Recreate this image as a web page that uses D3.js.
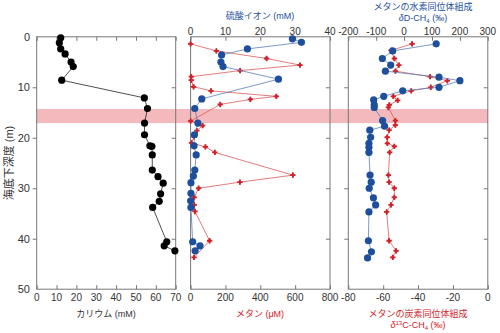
<!DOCTYPE html>
<html>
<head>
<meta charset="utf-8">
<script src="https://cdn.jsdelivr.net/npm/d3@7"></script>
<style>
  body { margin: 0; background: #fff; }
  svg text { font-family: "Liberation Sans", Arial, "Noto Sans CJK JP", sans-serif; }
</style>
</head>
<body>
<div id="chart"></div>
<script>
// ---- data (depth in m below seafloor) ----
var kDepth = [0.2, 1.2, 2.4, 3.4, 5.0, 5.9, 8.6, 12.1, 14.2, 17.1, 19.4, 21.6, 21.7, 23.4, 26.4, 27.7, 29.0, 31.1, 32.6, 33.8, 40.6, 41.4, 42.4];
var kValue = [12.1, 11.4, 12.1, 14.3, 17.3, 18.4, 12.6, 54.2, 55.8, 54.3, 54.3, 57.0, 58.0, 58.2, 58.2, 61.1, 63.7, 62.4, 61.7, 58.4, 65.5, 64.2, 69.6];

var so4Depth = [0.4, 1.1, 2.4, 3.6, 5.0, 5.9, 8.4, 12.3, 14.2, 17.1, 19.4, 21.6, 23.4, 26.4, 27.6, 28.9, 31.0, 32.5, 33.8, 40.6, 41.4, 42.4];
var so4Value = [29.2, 31.8, 16.3, 8.9, 8.7, 9.3, 25.2, 3.2, 1.2, 2.1, 1.1, 1.0, 1.6, 1.2, 0.8, 0.1, 0.1, 0.0, 0.1, 0.6, 2.7, 1.3];

var ch4Depth = [1.4, 2.8, 4.3, 5.6, 6.7, 7.9, 8.6, 9.9, 10.7, 11.8, 12.4, 13.4, 16.7, 17.6, 18.6, 19.8, 21.0, 21.8, 22.9, 27.4, 28.8, 30.0, 31.8, 33.3, 34.6, 40.4, 43.7];
var ch4Value = [0, 148, 436, 628, 284, 4, 4, 17, 117, 492, 343, 170, 0, 69, 36, 20, 5, 85, 139, 587, 283, 46, 21, 21, 25, 109, 20];

var dDDepth = [1.4, 2.8, 4.3, 5.6, 6.8, 8.0, 8.7, 10.0, 10.7, 11.8, 12.5, 13.5, 14.0, 16.6, 17.7, 18.5, 19.9, 21.1, 21.9, 22.9, 27.4, 28.8, 30.0, 31.9, 33.3, 34.7, 40.4, 42.6, 43.8];
var dDValue = [115, -41, -78, -48, -67, 125, 200, 125, -5, -73, -109, -107, -107, -77, -70, -123, -120, -126, -126, -126, -122, -118, -125, -110, -102, -126, -128, -117, -131];

var d13Depth = [1.4, 2.7, 4.3, 5.6, 6.8, 7.9, 8.7, 10.0, 10.7, 11.8, 12.6, 13.5, 14.0, 16.6, 17.5, 18.5, 19.9, 21.1, 21.7, 22.9, 27.4, 28.8, 30.0, 31.8, 33.3, 34.7, 40.4, 42.4, 43.7];
var d13Value = [-43.4, -55.5, -53.6, -51.0, -53.0, -33.1, -23.2, -32.7, -43.9, -54.2, -51.7, -56.5, -57.0, -53.0, -53.0, -56.6, -57.7, -57.6, -53.6, -56.3, -57.0, -56.6, -53.6, -53.6, -55.5, -58.0, -56.6, -52.6, -54.5];

var depthTicks = [0, 10, 20, 30, 40, 50];
var bandDepth = [14.3, 17.1];

var width = 500, height = 333;
var blue = "#1d4f9c", blueLine = "#5b80bd";
var red = "#d0222a", redLine = "#dd5a5a";
var axisColor = "#777";

var svg = d3.select("#chart").append("svg")
    .attr("width", width)
    .attr("height", height);

var y = d3.scaleLinear().domain([0, 50]).range([36.8, 289.2]);

// panels
var p1 = {left: 36.7, right: 175.7};
var p2 = {left: 190.6, right: 330};
var p3 = {left: 348.3, right: 487.8};

var xK = d3.scaleLinear().domain([0, 70]).range([p1.left, p1.right]);
var xSO4 = d3.scaleLinear().domain([0, 40]).range([p2.left, p2.right]);
var xCH4 = d3.scaleLinear().domain([0, 800]).range([p2.left, p2.right]);
var xdD = d3.scaleLinear().domain([-200, 300]).range([p3.left, p3.right]);
var xd13 = d3.scaleLinear().domain([-80, 0]).range([p3.left, p3.right]);

// pink band behind everything
svg.append("rect")
    .attr("x", p1.left)
    .attr("y", y(bandDepth[0]))
    .attr("width", p3.right - p1.left)
    .attr("height", y(bandDepth[1]) - y(bandDepth[0]))
    .attr("fill", "#f3b9bd");

function drawFrame(p, leftOut) {
    var g = svg.append("g");
    g.append("rect")
        .attr("x", p.left).attr("y", y(0))
        .attr("width", p.right - p.left).attr("height", y(50) - y(0))
        .attr("fill", "none").attr("stroke", axisColor).attr("stroke-width", 1);
    // right side inward ticks
    g.append("g").attr("transform", "translate(" + p.right + ",0)")
        .call(d3.axisLeft(y).tickValues([10, 20, 30, 40]).tickSize(4).tickFormat(""))
        .call(function(s) { s.select(".domain").remove(); s.selectAll("line").attr("stroke", axisColor); });
    if (leftOut) {
        g.append("g").attr("transform", "translate(" + p.left + ",0)")
            .call(d3.axisLeft(y).tickValues([10, 20, 30, 40]).tickSize(4).tickFormat(""))
            .call(function(s) { s.select(".domain").remove(); s.selectAll("line").attr("stroke", axisColor); });
    }
    return g;
}

function bottomAxis(scale, ticks) {
    // ticks pointing up into the plot, labels below
    var g = svg.append("g").attr("transform", "translate(0," + y(50) + ")")
        .call(d3.axisTop(scale).tickValues(ticks).tickSize(4).tickFormat(""));
    g.select(".domain").remove();
    g.selectAll("line").attr("stroke", axisColor);
    svg.append("g").selectAll("text").data(ticks).enter().append("text")
        .attr("x", function(d) { return scale(d); })
        .attr("y", 301)
        .attr("text-anchor", "middle")
        .attr("font-size", 10)
        .attr("fill", "#333")
        .text(function(d) { return d; });
}

function topAxis(scale, ticks, labels) {
    var g = svg.append("g").attr("transform", "translate(0," + y(0) + ")")
        .call(d3.axisBottom(scale).tickValues(ticks).tickSize(4).tickFormat(""));
    g.select(".domain").remove();
    g.selectAll("line").attr("stroke", axisColor);
    if (labels) {
        svg.append("g").selectAll("text").data(ticks).enter().append("text")
            .attr("x", function(d) { return scale(d); })
            .attr("y", 34.5)
            .attr("text-anchor", "middle")
            .attr("font-size", 10)
            .attr("fill", "#333")
            .text(function(d) { return d; });
    }
}

drawFrame(p1, true);
drawFrame(p2, false);
drawFrame(p3, true);

// left depth axis labels
svg.append("g").selectAll("text").data(depthTicks).enter().append("text")
    .attr("x", 30)
    .attr("y", function(d) { return y(d) + 4; })
    .attr("text-anchor", "end")
    .attr("font-size", 11)
    .attr("fill", "#333")
    .text(function(d) { return d; });

svg.append("text")
    .attr("transform", "translate(13," + y(25) + ") rotate(-90)")
    .attr("text-anchor", "middle")
    .attr("font-size", 11)
    .attr("fill", "#333")
    .text("海底下深度 (m)");

bottomAxis(xK, d3.range(0, 71, 10));
topAxis(xK, d3.range(0, 71, 10), false);
bottomAxis(xCH4, d3.range(0, 801, 200));
topAxis(xSO4, d3.range(0, 41, 10), true);
bottomAxis(xd13, d3.range(-80, 1, 20));
topAxis(xdD, d3.range(-200, 301, 100), true);

// axis titles
svg.append("text").attr("x", 106).attr("y", 317).attr("text-anchor", "middle")
    .attr("font-size", 9).attr("fill", "#333").text("カリウム (mM)");
svg.append("text").attr("x", 260).attr("y", 317).attr("text-anchor", "middle")
    .attr("font-size", 9).attr("fill", red).text("メタン (μM)");
svg.append("text").attr("x", 260).attr("y", 19).attr("text-anchor", "middle")
    .attr("font-size", 9).attr("fill", blue).text("硫酸イオン (mM)");

svg.append("text").attr("x", 418).attr("y", 317).attr("text-anchor", "middle")
    .attr("font-size", 9).attr("fill", red).text("メタンの炭素同位体組成");
var t13b = svg.append("text").attr("x", 418).attr("y", 328).attr("text-anchor", "middle")
    .attr("font-size", 9).attr("fill", red);
t13b.append("tspan").attr("font-style", "italic").text("δ");
t13b.append("tspan").attr("font-size", 6).attr("dy", -3).text("13");
t13b.append("tspan").attr("dy", 3).text("C-CH");
t13b.append("tspan").attr("font-size", 6).attr("dy", 1.5).text("4");
t13b.append("tspan").attr("dy", -1.5).text(" (‰)");

svg.append("text").attr("x", 423).attr("y", 10).attr("text-anchor", "middle")
    .attr("font-size", 9).attr("fill", blue).text("メタンの水素同位体組成");
var tD = svg.append("text").attr("x", 423).attr("y", 21).attr("text-anchor", "middle")
    .attr("font-size", 9).attr("fill", blue);
tD.append("tspan").attr("font-style", "italic").text("δ");
tD.append("tspan").text("D-CH");
tD.append("tspan").attr("font-size", 6).attr("dy", 1.5).text("4");
tD.append("tspan").attr("dy", -1.5).text(" (‰)");

// ---- series ----
function series(depths, values, xs, lineColor, markColor, kind) {
    var pts = depths.map(function(d, i) { return [xs(values[i]), y(d)]; });
    var line = d3.line();
    svg.append("path")
        .attr("d", line(pts))
        .attr("fill", "none")
        .attr("stroke", lineColor)
        .attr("stroke-width", 0.8);
    var g = svg.append("g");
    if (kind === "circle") {
        g.selectAll("circle").data(pts).enter().append("circle")
            .attr("cx", function(p) { return p[0]; })
            .attr("cy", function(p) { return p[1]; })
            .attr("r", 3.6)
            .attr("fill", markColor);
    } else {
        var sym = d3.symbol().type(d3.symbolCross).size(16);
        var dia = d3.symbol().type(d3.symbolDiamond).size(9);
        g.selectAll("path.c").data(pts).enter().append("path")
            .attr("class", "c")
            .attr("transform", function(p) { return "translate(" + p[0] + "," + p[1] + ")"; })
            .attr("d", sym)
            .attr("fill", markColor);
        g.selectAll("path.d").data(pts).enter().append("path")
            .attr("class", "d")
            .attr("transform", function(p) { return "translate(" + p[0] + "," + p[1] + ")"; })
            .attr("d", dia)
            .attr("fill", markColor);
    }
}

series(kDepth, kValue, xK, "#222", "#000", "circle");
series(ch4Depth, ch4Value, xCH4, redLine, red, "cross");
series(so4Depth, so4Value, xSO4, blueLine, blue, "circle");
series(d13Depth, d13Value, xd13, redLine, red, "cross");
series(dDDepth, dDValue, xdD, blueLine, blue, "circle");
</script>
</body>
</html>
